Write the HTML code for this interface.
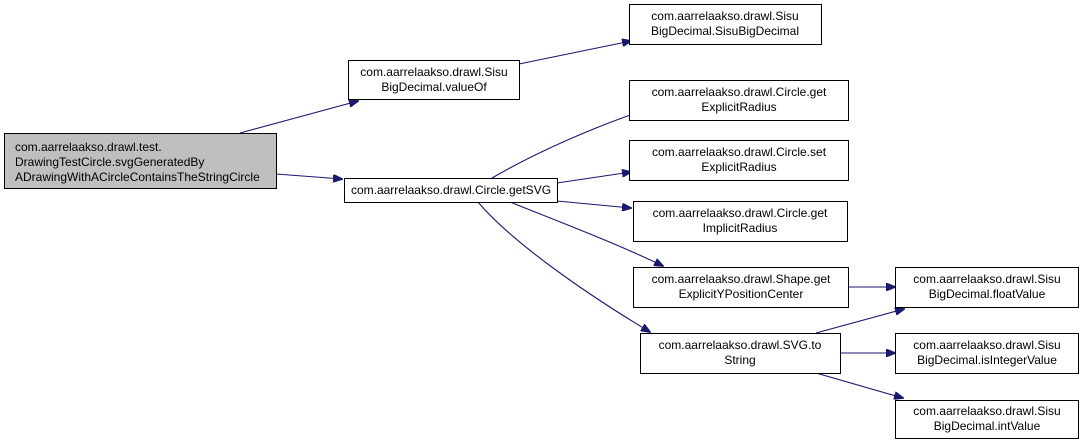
<!DOCTYPE html>
<html><head><meta charset="utf-8"><style>
html,body{margin:0;padding:0;background:#fff;}
svg{display:block;}
text{font-family:"Liberation Sans",Arial,sans-serif;font-size:12px;fill:#000;}
</style></head><body>
<svg width="1085" height="444" viewBox="0 0 1085 444" xmlns="http://www.w3.org/2000/svg">
<defs><marker id="a" markerWidth="10" markerHeight="8" refX="9" refY="4" orient="auto" markerUnits="userSpaceOnUse"><path d="M0,0 L10,4 L0,8 z" fill="#191970" stroke="#191970"/></marker></defs>
<g fill="none" stroke="#191970" stroke-width="1.1">
<path d="M240,133 L358,101" marker-end="url(#a)"/>
<path d="M276,174 L342,179" marker-end="url(#a)"/>
<path d="M519,64 L631,41" marker-end="url(#a)"/>
<path d="M492,178 C540,150 600,125 642,111" marker-end="url(#a)"/>
<path d="M557,183 L631,172" marker-end="url(#a)"/>
<path d="M557,201 L631,208" marker-end="url(#a)"/>
<path d="M510,202 C560,222 620,245 663,266" marker-end="url(#a)"/>
<path d="M478,202 C510,240 580,290 650,332" marker-end="url(#a)"/>
<path d="M848,287 L895,287" marker-end="url(#a)"/>
<path d="M816,333 L904,309" marker-end="url(#a)"/>
<path d="M840,353 L895,353" marker-end="url(#a)"/>
<path d="M816,373 L903,398" marker-end="url(#a)"/>
</g>
<g stroke="#000" stroke-width="1">
<rect x="4.5" y="133.5" width="272" height="55" fill="#bfbfbf"/>
<rect x="348.5" y="60.5" width="171" height="39" fill="#fff"/>
<rect x="344.5" y="178.5" width="213" height="24" fill="#fff"/>
<rect x="629.5" y="4.5" width="192" height="40" fill="#fff"/>
<rect x="629.5" y="80.5" width="219" height="40" fill="#fff"/>
<rect x="629.5" y="140.5" width="219" height="40" fill="#fff"/>
<rect x="633.5" y="201.5" width="214" height="40" fill="#fff"/>
<rect x="633.5" y="267.5" width="215" height="40" fill="#fff"/>
<rect x="640.5" y="333.5" width="200" height="40" fill="#fff"/>
<rect x="895.5" y="267.5" width="183" height="40" fill="#fff"/>
<rect x="895.5" y="333.5" width="183" height="40" fill="#fff"/>
<rect x="895.5" y="400.5" width="183" height="38" fill="#fff"/>
</g>
<text x="15" y="151">com.aarrelaakso.drawl.test.</text>
<text x="15" y="166">DrawingTestCircle.svgGeneratedBy</text>
<text x="15" y="181">ADrawingWithACircleContainsTheStringCircle</text>
<g text-anchor="middle">
<text x="434" y="76">com.aarrelaakso.drawl.Sisu</text>
<text x="434" y="91">BigDecimal.valueOf</text>
<text x="451" y="194">com.aarrelaakso.drawl.Circle.getSVG</text>
<text x="725" y="20">com.aarrelaakso.drawl.Sisu</text>
<text x="725" y="35">BigDecimal.SisuBigDecimal</text>
<text x="739" y="96">com.aarrelaakso.drawl.Circle.get</text>
<text x="739" y="111">ExplicitRadius</text>
<text x="739" y="156">com.aarrelaakso.drawl.Circle.set</text>
<text x="739" y="171">ExplicitRadius</text>
<text x="740" y="217">com.aarrelaakso.drawl.Circle.get</text>
<text x="740" y="232">ImplicitRadius</text>
<text x="741" y="283">com.aarrelaakso.drawl.Shape.get</text>
<text x="741" y="298">ExplicitYPositionCenter</text>
<text x="740" y="349">com.aarrelaakso.drawl.SVG.to</text>
<text x="740" y="364">String</text>
<text x="987" y="283">com.aarrelaakso.drawl.Sisu</text>
<text x="987" y="298">BigDecimal.floatValue</text>
<text x="987" y="349">com.aarrelaakso.drawl.Sisu</text>
<text x="987" y="364">BigDecimal.isIntegerValue</text>
<text x="987" y="415">com.aarrelaakso.drawl.Sisu</text>
<text x="987" y="430">BigDecimal.intValue</text>
</g>
</svg>
</body></html>
